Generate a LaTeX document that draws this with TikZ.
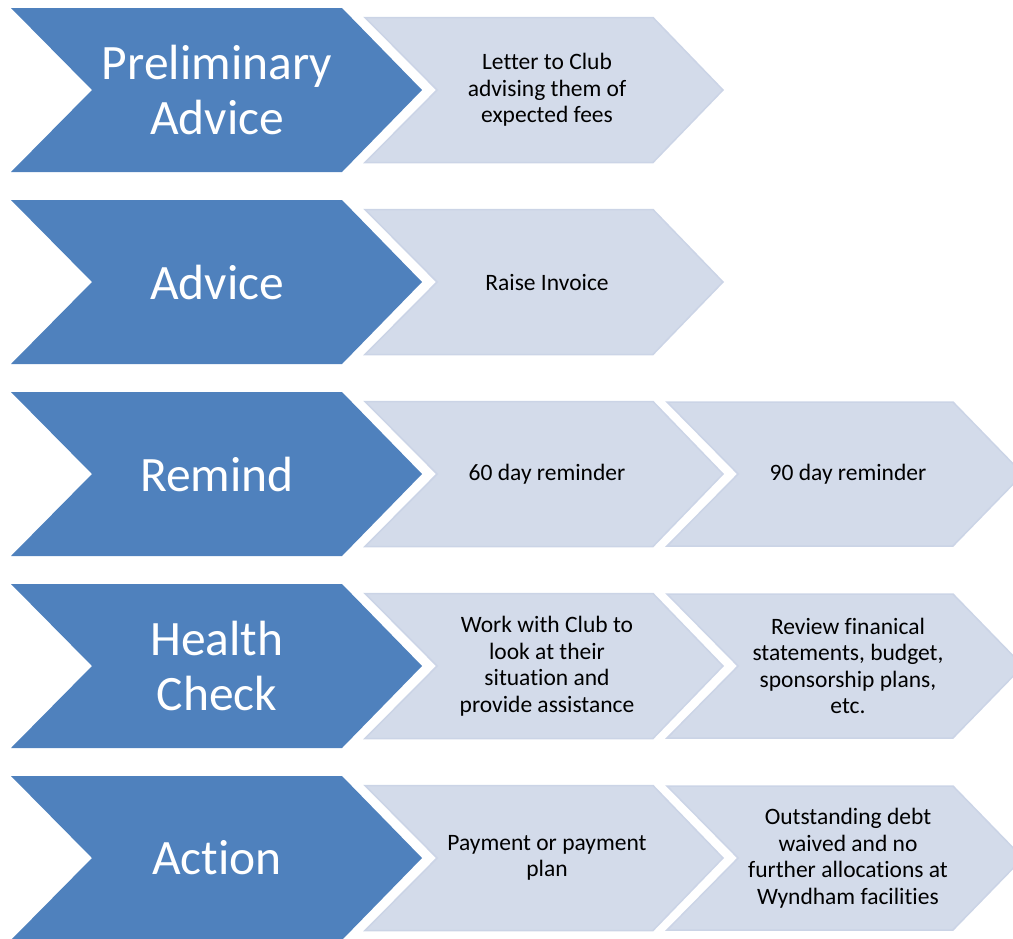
\documentclass[tikz,border=0pt]{standalone}
\usepackage{fontspec}
\setmainfont{Carlito}[Ligatures=NoCommon]
\usetikzlibrary{calc}
\definecolor{stageblue}{HTML}{4F81BD}
\definecolor{tasklight}{HTML}{D3DBEA}
\definecolor{taskedge}{HTML}{CBD4E6}

\begin{document}
\begin{tikzpicture}[x=1pt,y=-1pt,
	stage/.style={fill=stageblue},
	task/.style={fill=tasklight,draw=taskedge,line width=1.5pt},
	stagetext/.style={text=white,align=center,font=\fontsize{49.5}{55}\selectfont},
	tasktext/.style={align=center,font=\fontsize{23.5}{26.5}\selectfont}]
	\useasboundingbox (0,0) rectangle (1013,938);
	\clip (0,0) rectangle (1013,938);
	% blue stage chevrons and first column of tasks
	\foreach \r [evaluate=\r as \yc using 90+192*\r] in {0,...,4} {
		\path[stage] (11,\yc-82) -- (342,\yc-82) -- (422,\yc) -- (342,\yc+82) -- (11,\yc+82) -- (92,\yc) -- cycle;
		\path[task] (365,\yc-72.5) -- (653,\yc-72.5) -- (723,\yc) -- (653,\yc+72.5) -- (365,\yc+72.5) -- (437,\yc) -- cycle;
	}
	% second column, last three rows only
	\foreach \r [evaluate=\r as \yc using 90+192*\r] in {2,3,4}
		\path[task] (667,\yc-72) -- (953,\yc-72) -- (1023,\yc) -- (953,\yc+72) -- (667,\yc+72) -- (738,\yc) -- cycle;
	\node[stagetext] (prelim) at (217,90) {Preliminary\\Advice};
	\node[stagetext] (advice) at (217,282) {Advice};
	\node[stagetext] (remind) at (217,474) {Remind};
	\node[stagetext] (health) at (217,666) {Health\\Check};
	\node[stagetext] (action) at (217,858) {Action};
	\node[tasktext] (letter) at (547,90) {Letter to Club\\advising them of\\expected fees};
	\node[tasktext] (invoice) at (547,282) {Raise Invoice};
	\node[tasktext] (sixty) at (547,474) {60 day reminder};
	\node[tasktext] (ninety) at (848,474) {90 day reminder};
	\node[tasktext] (work) at (547,666) {Work with Club to\\look at their\\situation and\\provide assistance};
	\node[tasktext] (review) at (848,666) {Review finanical\\statements, budget,\\sponsorship plans,\\etc.};
	\node[tasktext] (payment) at (547,858) {Payment or payment\\plan};
	\node[tasktext] (waived) at (848,858) {Outstanding debt\\waived and no\\further allocations at\\Wyndham facilities};
\end{tikzpicture}
\end{document}
